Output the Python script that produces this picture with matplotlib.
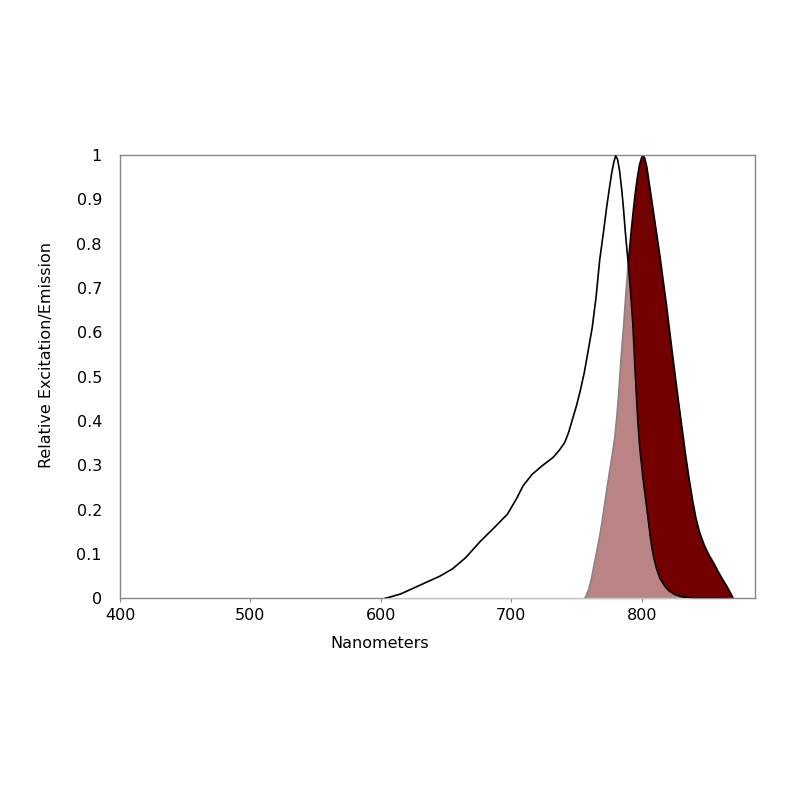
import numpy as np
import matplotlib
matplotlib.use('Agg')
import matplotlib.pyplot as plt

# excitation spectrum (nm, relative value)
ex_nm = [603, 615, 630, 645, 655, 665, 676, 687, 697, 704, 709, 716, 724, 732, 737,
         741, 744, 747, 750, 753, 756, 759, 762, 765, 767.8, 770.9, 773, 775, 777,
         778.7, 780, 781.5, 783, 784.7, 786, 787.3, 789.5, 791.5, 793.3, 794.5, 795.7,
         797, 798.5, 801, 803.6, 805.5, 807, 809, 811.3, 814, 817.6, 821, 825.3, 830.4,
         840, 865]
ex_val = [0, 0.01, 0.03, 0.05, 0.067, 0.092, 0.128, 0.16, 0.19, 0.225, 0.254, 0.28, 0.30, 0.318, 0.335,
          0.352, 0.375, 0.405, 0.435, 0.47, 0.51, 0.56, 0.61, 0.68, 0.764, 0.831, 0.88, 0.921, 0.96,
          0.985, 0.998, 0.99, 0.965, 0.921, 0.88, 0.831, 0.76, 0.69, 0.614, 0.54, 0.47,
          0.40, 0.34, 0.27, 0.21, 0.165, 0.13, 0.095, 0.068, 0.045, 0.028, 0.017, 0.009, 0.004,
          0, 0]

# emission spectrum
em_nm = [755.5, 757, 759, 761, 763, 765, 767, 769, 771, 773, 775, 777, 779, 780.5, 782,
         783.7, 785.7, 787.5, 789.5, 791.6, 793.3, 794.9, 796.5, 798, 799.5, 800.5,
         801.8, 803.5, 806, 808.5, 811, 813.5, 816, 818.5, 821, 823.5, 826, 828.5, 831,
         833.5, 836, 838.5, 841, 844, 847.5, 851, 855, 858, 861.5, 865, 868, 870]
em_val = [0, 0.007, 0.022, 0.045, 0.075, 0.105, 0.135, 0.17, 0.21, 0.25, 0.288, 0.325, 0.365, 0.41, 0.465,
          0.54, 0.614, 0.69, 0.764, 0.831, 0.88, 0.921, 0.955, 0.98, 0.995, 1.0,
          0.995, 0.975, 0.925, 0.875, 0.825, 0.775, 0.72, 0.665, 0.605, 0.545, 0.487, 0.43, 0.375,
          0.32, 0.27, 0.225, 0.185, 0.15, 0.122, 0.1, 0.08, 0.063, 0.045, 0.028, 0.012, 0.0]

xticks = [400, 500, 600, 700, 800]
yticks = [0, 0.1, 0.2, 0.3, 0.4, 0.5, 0.6, 0.7, 0.8, 0.9, 1]
ytick_labels = ['0', '0.1', '0.2', '0.3', '0.4', '0.5', '0.6', '0.7', '0.8', '0.9', '1']

fig = plt.figure(figsize=(8, 8), dpi=100)
ax = fig.add_axes([0.15, 0.2519, 0.794, 0.5543])

# emission drawn first, excitation as half-white veil on top -> pink overlap
ax.fill_between(em_nm, em_val, 0, color='#730000', edgecolor='black', linewidth=1.2, zorder=2)
ax.fill_between(ex_nm, ex_val, 0, color='white', alpha=0.52, linewidth=0, zorder=3)
ax.plot(ex_nm, ex_val, color='black', linewidth=1.2, zorder=4)

ax.set_xlim(400, 887)
ax.set_ylim(0, 1)
ax.set_xticks(xticks)
ax.set_yticks(yticks)
ax.set_yticklabels(ytick_labels)
ax.tick_params(axis='x', direction='out', length=3, color='#888888', labelsize=11.5, pad=4)
ax.tick_params(axis='y', length=0, labelsize=11.5, pad=13)
for s in ax.spines.values():
    s.set_color('#888888')
    s.set_linewidth(1.0)

ax.set_xlabel('Nanometers', fontsize=11.5, labelpad=9)
ax.set_ylabel('Relative Excitation/Emission', fontsize=11.5, labelpad=16)
# labels in the original sit off-centre
ax.xaxis.label.set_x(0.409)
ax.yaxis.label.set_y(0.55)

plt.savefig('out.png', dpi=100)
